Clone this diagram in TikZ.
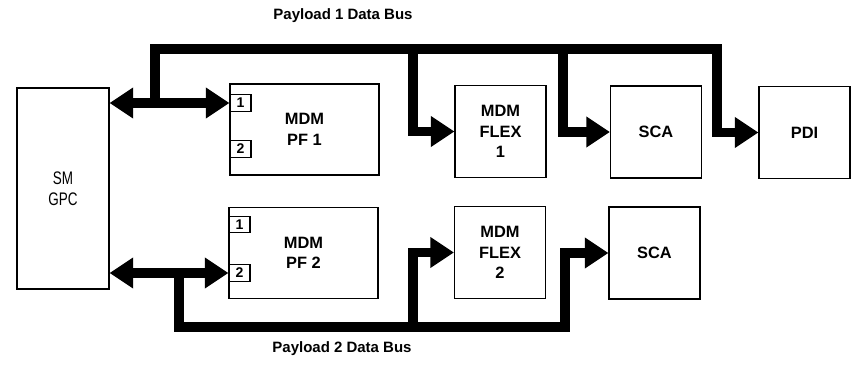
\documentclass[tikz,border=0pt]{standalone}
\usepackage{fontspec}
\setmainfont{Liberation Sans}
\usepackage{graphicx}
\usepackage{tikz}
\usetikzlibrary{arrows.meta}

\newcommand{\tallword}[1]{\scalebox{1}[1.35]{#1}}

\tikzset{
	unit/.style={draw, line width=1pt, align=center, inner sep=0pt, font=\fontsize{14}{17.5}\selectfont\bfseries},
	smallunit/.style={unit, minimum width=2.73cm, minimum height=2.76cm},
	pfunit/.style={unit, minimum width=4.47cm, minimum height=2.73cm},
	port/.style={draw, line width=1pt, inner sep=0pt, minimum width=0.63cm, minimum height=0.5cm, font=\fontsize{12}{12}\selectfont\bfseries},
	bus/.style={line width=8.5pt, line join=miter},
	busarrow/.style={bus, -{Triangle[length=20pt,width=25pt]}},
	busboth/.style={bus, {Triangle[length=20pt,width=25pt]}-{Triangle[length=20pt,width=25pt]}},
	busname/.style={font=\fontsize{12.8}{12.8}\selectfont\bfseries}
}

\begin{document}
\begin{tikzpicture}[x=0.03cm, y=-0.03cm]
			\useasboundingbox (0,0) rectangle (859,366);
			
			% units
			\node[draw, line width=1pt, minimum width=2.76cm, minimum height=6.03cm, align=center, font=\fontsize{11.5}{18}\selectfont] (gpc) at (63,188.5) {\tallword{SM}\\\tallword{GPC}};
			\node[pfunit] (pf1) at (304.5,129.5) {MDM\\PF 1};
			\node[pfunit] (pf2) at (303.5,253) {MDM\\PF 2};
			\node[smallunit] (flex1) at (500.5,131.5) {MDM\\FLEX\\1};
			\node[smallunit] (sca1) at (656,132) {SCA};
			\node[smallunit] (pdi) at (804.5,132.5) {PDI};
			\node[smallunit] (flex2) at (500,252.5) {MDM\\FLEX\\2};
			\node[smallunit] (sca2) at (654.5,253) {SCA};
			
			% ports
			\node[port] (p11) at (240.5,103) {1};
			\node[port] (p12) at (240.5,149) {2};
			\node[port] (p21) at (239.5,224.5) {1};
			\node[port] (p22) at (239.5,273) {2};
			
			\node[busname] (title1) at (343,16) {Payload 1 Data Bus};
			\node[busname] (title2) at (342,349) {Payload 2 Data Bus};
			
			% payload 1 bus
			\coordinate (b1l) at (155,49);
			\coordinate (b1r) at (717,49);
			\coordinate (t1) at (413,49);
			\coordinate (t2) at (563,49);
			\draw[busboth] (gpc.east |- p11) -- (p11.west);
			\draw[busarrow] (b1l |- p11) |- (b1r) |- (pdi.west);
			\draw[busarrow] (t1) |- (flex1.west);
			\draw[busarrow] (t2) |- (sca1.west);
			
			% payload 2 bus
			\coordinate (b2l) at (179,327);
			\coordinate (b2r) at (565,327);
			\coordinate (t3) at (413,327);
			\draw[busboth] (gpc.east |- p22) -- (p22.west);
			\draw[busarrow] (b2l |- p22) |- (b2r) |- (sca2.west);
			\draw[busarrow] (t3) |- (flex2.west);
			
\end{tikzpicture}
\end{document}
